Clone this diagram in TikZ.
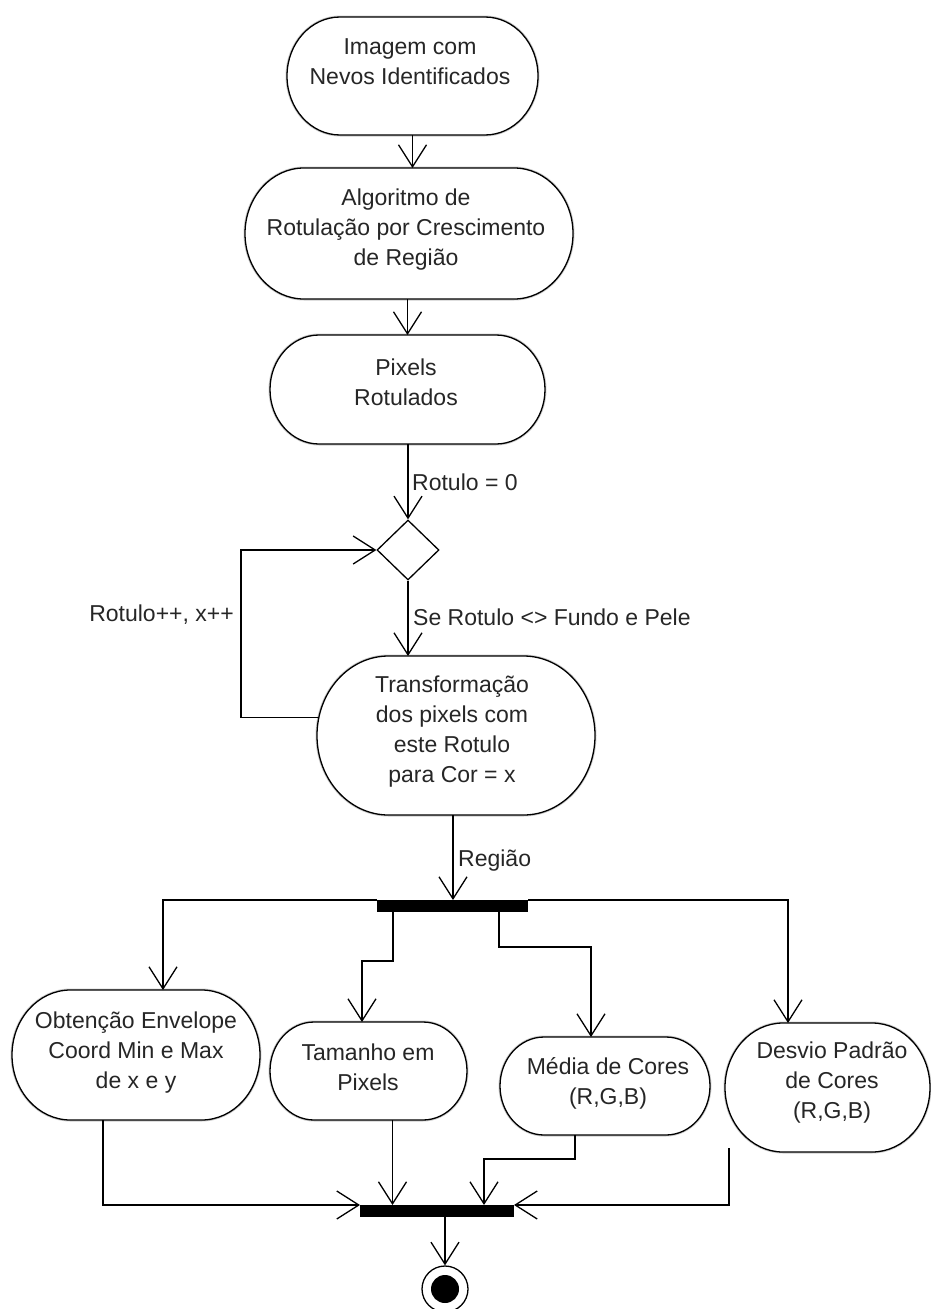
\documentclass[tikz,border=0pt]{standalone}
\usepackage{fontspec}
\setmainfont{Liberation Sans}
\usetikzlibrary{arrows.meta,calc,shapes.geometric}

\tikzset{
  box/.style={rectangle, inner sep=0pt, outer sep=0pt},
  acttext/.style={align=center, font=\fontsize{23}{30}\selectfont, text=black!85, inner sep=0pt},
  lbl/.style={font=\fontsize{23}{30}\selectfont, text=black!85, inner sep=0pt},
  flow/.style={line width=1.3pt, -{Straight Barb[length=22pt,width=28pt,line width=1.3pt]}},
  outline/.style={draw=black, line width=1.3pt, fill=white},
  shade/.style={draw=black!20, line width=3pt, xshift=1.5pt, yshift=-1.5pt},
  bar/.style={rectangle, fill=black, inner sep=0pt, outer sep=0pt},
}

% action outline: straight top and bottom, half-ellipse caps on both sides
\newcommand\actionpath[2]{%
  \draw[#1] let \p1=(#2.south west), \p2=(#2.north east),
    \n1={0.45*(\y2-\y1)}, \n2={0.5*(\y2-\y1)} in
    (\x1+\n1,\y1) -- (\x2-\n1,\y1)
    arc[start angle=-90, end angle=90, x radius=\n1, y radius=\n2]
    -- (\x1+\n1,\y2)
    arc[start angle=90, end angle=270, x radius=\n1, y radius=\n2]
    -- cycle;}
\newcommand\action[1]{\actionpath{shade}{#1}\actionpath{outline}{#1}}

\begin{document}
\begin{tikzpicture}[x=1pt, y=1pt]
\useasboundingbox (0,0) rectangle (931,-1309);

% action boxes
\node[box, minimum width=251pt, minimum height=118pt] (n1) at (412.5,-76) {};
\node[box, minimum width=328pt, minimum height=131pt] (n2) at (409,-233.5) {};
\node[box, minimum width=275pt, minimum height=109pt] (n3) at (407.5,-389.5) {};
\node[box, minimum width=278pt, minimum height=159pt] (n4) at (456,-735.5) {};
\node[box, minimum width=248pt, minimum height=130pt] (n5) at (136,-1055) {};
\node[box, minimum width=197pt, minimum height=98pt] (n6) at (368.5,-1071) {};
\node[box, minimum width=210pt, minimum height=98pt] (n7) at (605,-1086) {};
\node[box, minimum width=205pt, minimum height=129pt] (n8) at (827.5,-1087.5) {};

\foreach \a in {n1,n2,n3,n4,n5,n6,n7,n8} {\action{\a}}

% decision, fork/join bars, final state
\node[diamond, draw, line width=1.3pt, fill=white, minimum width=62pt, minimum height=60pt, inner sep=0pt] (d) at (408,-550) {};
\node[bar, minimum width=151pt, minimum height=12pt] (fork) at (452.5,-906) {};
\node[bar, minimum width=154pt, minimum height=12pt] (join) at (437,-1211) {};
\node[circle, draw, line width=1.3pt, fill=white, minimum size=46pt, inner sep=0pt] (final) at (445,-1289) {};
\node[circle, fill=black, minimum size=28pt, inner sep=0pt] (finaldot) at (final) {};

% texts inside the actions
\node[acttext] (t1) at (410,-62) {Imagem com\\Nevos Identificados};
\node[acttext] (t2) at (406,-230) {Algoritmo de\\Rotulação por Crescimento\\de Região};
\node[acttext] (t3) at (406,-382) {Pixels\\Rotulados};
\node[acttext] (t4) at (452,-732) {Transformação\\dos pixels com\\este Rotulo\\para Cor = x};
\node[acttext] (t5) at (136,-1053) {Obtenção Envelope\\Coord Min e Max\\de x e y};
\node[acttext] (t6) at (368,-1067) {Tamanho em\\Pixels};
\node[acttext] (t7) at (608,-1083) {Média de Cores\\(R,G,B)};
\node[acttext] (t8) at (832,-1083) {Desvio Padrão\\de Cores\\(R,G,B)};

% main flow
\draw[flow] (n1.south) -- (n1.south |- n2.north);
\draw[flow] (n3.north |- n2.south) -- (n3.north);
\draw[flow] (d.north |- n3.south) -- (d.north);
\draw[flow] (d.south) -- (d.south |- n4.north);
\draw[flow] ($(n4.west)+(2,18)$) -- ++(-78,0) |- (d.west);
\coordinate (rg) at ($(n4.south)+(-3,0)$);
\draw[flow] (rg) -- (rg |- fork.north);

% fork branches
\coordinate (b1) at ($(n5.north)+(27,0)$);
\coordinate (b2) at ($(n6.north)+(-6.5,0)$);
\coordinate (b3) at ($(n7.north)+(-14,0)$);
\coordinate (b4) at ($(n8.north)+(-39.5,0)$);
\draw[flow] (fork.north west) -| (b1);
\draw[flow] (fork.north east) -| (b4);
\draw[flow] ($(fork.south west)+(16,0)$) -- ++(0,-49) -| (b2);
\draw[flow] ($(fork.south west)+(122,0)$) -- ++(0,-35) -| (b3);

% join branches
\coordinate (c5) at ($(n5.south)+(-33,0)$);
\coordinate (c6) at ($(n6.south)+(24,0)$);
\coordinate (c7) at ($(n7.south)+(-30,0)$);
\coordinate (c8) at ($(n8.south west)+(4,4)$);
\draw[flow] (c5) |- (join.north west);
\draw[flow] (c6) -- (c6 |- join.north);
\draw[flow] (c7) -- ++(0,-24) -| ($(join.north west)+(124,0)$);
\draw[flow] (c8) |- (join.north east);
\draw[flow] (final.north |- join.south) -- (final.north);

% guard and flow labels
\node[lbl, anchor=base west] (l1) at (412,-490) {Rotulo = 0};
\node[lbl, anchor=base west] (l2) at (413,-625) {Se Rotulo <> Fundo e Pele};
\node[lbl, anchor=base west] (l3) at (458,-866) {Região};
\node[lbl, anchor=base east] (l4) at (234,-621) {Rotulo++, x++};
\end{tikzpicture}
\end{document}
